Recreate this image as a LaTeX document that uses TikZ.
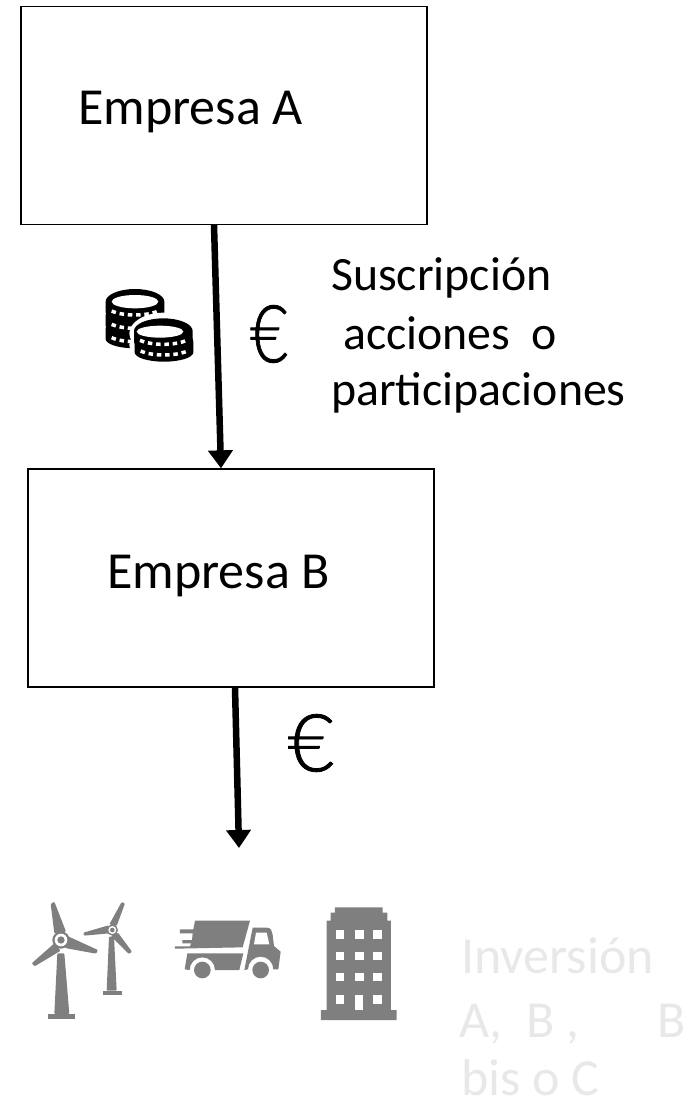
\documentclass[tikz,border=0pt]{standalone}
\usepackage{fontspec}
\setmainfont{Carlito}
\newfontfamily\eurofont{Lato}[UprightFont=* Light,FakeBold=1]
\usetikzlibrary{arrows.meta}
\definecolor{icongray}{HTML}{7F7F7F}
\definecolor{ghost}{HTML}{E8E8E8}
\tikzset{
  boxnode/.style={draw=black,line width=1.3pt,minimum width=406pt,minimum height=218pt,inner sep=0pt},
  label/.style={anchor=base west,inner sep=0pt,font=\fontsize{52}{52}\selectfont},
  small/.style={anchor=base west,inner sep=0pt,font=\fontsize{47.8}{47.8}\selectfont},
  ghosttext/.style={anchor=base west,inner sep=0pt,text=ghost,font=\fontsize{52}{52}\selectfont},
  euro/.style={anchor=center,inner sep=0pt,font=\eurofont\fontsize{80}{80}\selectfont},
  flow/.style={line width=6.5pt,-{Triangle[width=24pt,length=18pt]}},
  zoomed/.style={x=0.33333pt,y=-0.33333pt},
  gicon/.style={fill=icongray,draw=none,rounded corners=1pt},
  hole/.style={fill=white,draw=none}
}
\newcommand{\coinpart}[2]{%
  \fill[black] (#1-88,#2) -- (#1-88,#2+32) arc[x radius=88,y radius=28,start angle=180,end angle=0] -- (#1+88,#2) arc[x radius=88,y radius=38,start angle=0,end angle=-180] -- cycle;
  \draw[white,line width=3.5pt,dash pattern=on 4.5pt off 3.8pt] (#1-70,#2+28) .. controls (#1-35,#2+44) and (#1+35,#2+44) .. (#1+70,#2+28);
}
\begin{document}
\begin{tikzpicture}[x=1pt,y=-1pt]
\useasboundingbox (0,0) rectangle (696,1103);
\node[boxnode] (a) at (224,115.5) {};
\node[boxnode] (b) at (231,578) {};
\coordinate (inv) at (239,848);
\draw[flow] ([xshift=-10pt]a.south) -- ([xshift=-10pt]b.north);
\draw[flow] ([xshift=4pt]b.south) -- (inv);
\node[label] (ta) at (78,124) {Empresa A};
\node[label] (tb) at (107,588) {Empresa B};
\node[small] (s1) at (331,290) {Suscripción};
\node[small] (s2) at (343,349) {acciones\ \ o};
\node[small] (s3) at (331,405) {participaciones};
\node[euro] (e1) at (269,334) {\scalebox{0.82}[1]{€}};
\node[euro] (e2) at (311,743) {€};
\node[ghosttext] (g1) at (461,973) {Inversión};
\node[ghosttext] (g2) at (459,1037) {A,\ \ B ,};
\node[ghosttext] (g3) at (657,1037) {B};
\node[ghosttext] (g4) at (461,1095) {bis o C};
% coins
\begin{scope}[shift={(80,270)},zoomed]
  \coinpart{165}{175}
  \coinpart{165}{135}
  \coinpart{165}{95}
  \fill[white] (165,95) ellipse[x radius=70,y radius=20];
  \fill[white] (252,190) ellipse[x radius=104,y radius=62];
  \fill[white] (252,225) ellipse[x radius=104,y radius=60];
  \coinpart{252}{215}
  \coinpart{250}{183}
  \fill[white] (240,185) ellipse[x radius=70,y radius=18];
\end{scope}
% icons
\begin{scope}[shift={(10,890)},zoomed]
  % turbine 1
  \fill[gicon] (142,190) -- (163,190) -- (178,372) -- (133,372) -- cycle;
  \fill[icongray] (114,372) rectangle (196,387);
  \fill[gicon] (122,42) -- (133,35) -- (168,125) -- (133,130) -- cycle;
  \fill[gicon] (172,138) -- (264,180) -- (258,191) -- (165,174) -- cycle;
  \fill[gicon] (133,160) -- (152,182) -- (74,229) -- (65,220) -- cycle;
  \fill[icongray] (153,150) circle[radius=26];
  \fill[white] (153,150) circle[radius=19];
  \fill[icongray] (153,150) circle[radius=11];
  % turbine 2
  \fill[gicon] (297,140) -- (312,140) -- (320,302) -- (290,302) -- cycle;
  \fill[icongray] (279,302) rectangle (337,314);
  \fill[gicon] (335,36) -- (345,40) -- (320,108) -- (298,103) -- cycle;
  \fill[gicon] (220,128) -- (296,106) -- (298,130) -- (222,137) -- cycle;
  \fill[gicon] (324,128) -- (366,185) -- (357,192) -- (303,138) -- cycle;
  \fill[icongray] (307,120) circle[radius=17];
  \fill[white] (307,120) circle[radius=12];
  \fill[icongray] (307,120) circle[radius=7];
  % truck
  \fill[icongray] (555,92) -- (720,92) -- (698,172) -- (495,176) -- (495,169) -- (540,169) -- (543,160) -- (517,160) -- (517,150) -- (546,150) -- (548,130) -- (510,130) -- (510,118) -- (550,118) -- cycle;
  \fill[icongray] (532,190) -- (700,190) -- (688,240) -- (615,240) arc[start angle=0,end angle=-180,radius=38] -- (524,238) -- cycle;
  \fill[icongray] (728,113) -- (770,113) .. controls (782,113) and (785,120) .. (788,135) -- (792,168) -- (812,185) -- (805,238) -- (790,238) arc[start angle=0,end angle=-180,radius=38] -- (703,240) -- cycle;
  \fill[white] (738,128) -- (770,128) -- (778,163) -- (732,163) -- cycle;
  \fill[icongray] (577,240) circle[radius=25];
  \fill[icongray] (752,240) circle[radius=25];
  % building
  \fill[icongray] (975,52) -- (1118,52) -- (1118,68) -- (1132,68) -- (1132,92) -- (1143,92) -- (1143,360) -- (1160,360) -- (1160,390) -- (933,390) -- (933,360) -- (950,360) -- (950,92) -- (962,92) -- (962,68) -- (975,68) -- cycle;
  \foreach \wy in {120,185,248,315}{
    \fill[hole] (977,\wy) rectangle ++(26,26);
    \fill[hole] (1090,\wy) rectangle ++(26,26);
  }
  \foreach \wy in {120,185,248}{
    \fill[hole] (1035,\wy) rectangle ++(26,26);
  }
  \fill[hole] (1035,315) rectangle (1060,361);
\end{scope}
\end{tikzpicture}
\end{document}
